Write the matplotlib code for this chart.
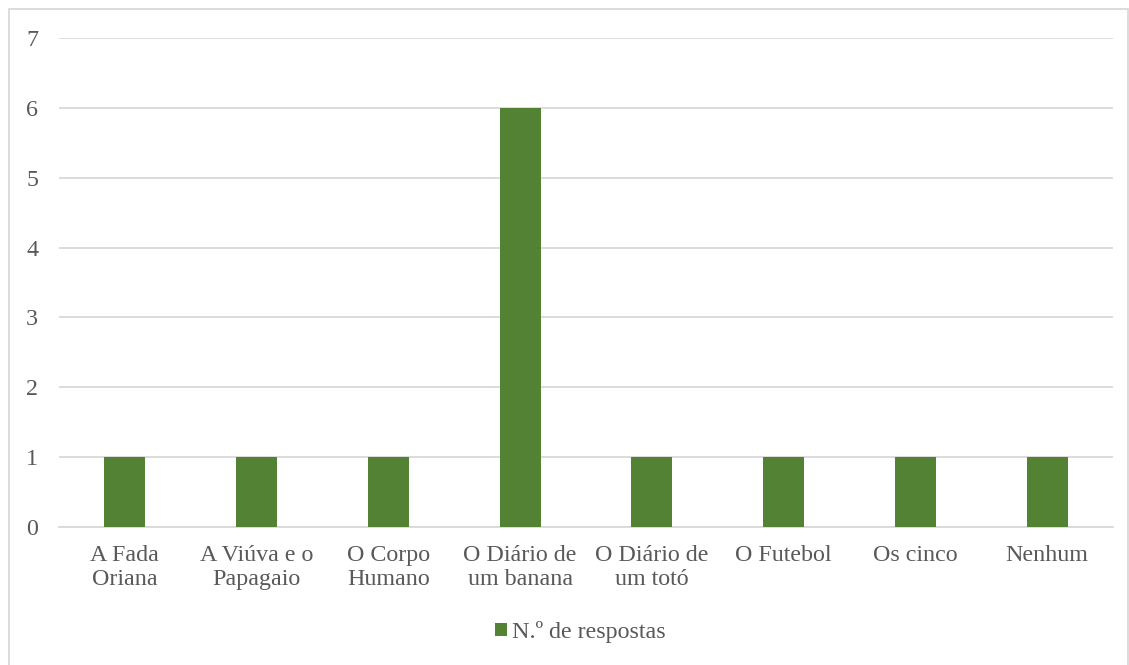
import matplotlib.pyplot as plt
from matplotlib.patches import Rectangle

categories = ["A Fada\nOriana", "A Viúva e o\nPapagaio", "O Corpo\nHumano",
              "O Diário de\num banana", "O Diário de\num totó", "O Futebol",
              "Os cinco", "Nenhum"]
respostas = [1, 1, 1, 6, 1, 1, 1, 1]
y_ticks = [0, 1, 2, 3, 4, 5, 6, 7]
series_label = "N.º de respostas"

plt.rcParams["font.family"] = ["Liberation Serif", "DejaVu Serif"]
text_color = "#595959"
grid_color = "#D9D9D9"
bar_color = "#548235"
fsize = 17.3

fig = plt.figure(figsize=(11.29, 6.65), dpi=100)
ax = fig.add_axes([59 / 1129, 1 - 527 / 665, 1054 / 1129, 489 / 665])

x = list(range(len(categories)))
ax.bar(x, respostas, width=0.31, color=bar_color, label=series_label, zorder=3)

ax.set_xlim(-0.5, len(categories) - 0.5)
ax.set_ylim(0, 7)
ax.set_yticks(y_ticks)
ax.set_xticks(x)
ax.set_xticklabels(categories, linespacing=1.18)
ax.grid(axis="y", color=grid_color, linewidth=1.3, zorder=0)
for side in ["top", "right", "left"]:
    ax.spines[side].set_visible(False)
ax.spines["bottom"].set_color(grid_color)
ax.spines["bottom"].set_linewidth(1.3)
ax.tick_params(axis="both", length=0, labelsize=fsize, colors=text_color)
ax.tick_params(axis="x", pad=13)
ax.tick_params(axis="y", pad=15)

leg = fig.legend(loc="center", bbox_to_anchor=(580 / 1129, 1 - 632 / 665),
                 frameon=False, fontsize=fsize, handlelength=0.5, handleheight=0.5,
                 handletextpad=0.2)
for t in leg.get_texts():
    t.set_color(text_color)

fig.patches.append(Rectangle((9 / 1129, -0.01), 1119 / 1129, 1 - 9 / 665 + 0.01,
                             transform=fig.transFigure, fill=False,
                             edgecolor=grid_color, linewidth=1.3))

fig.savefig("out.png", dpi=100)
